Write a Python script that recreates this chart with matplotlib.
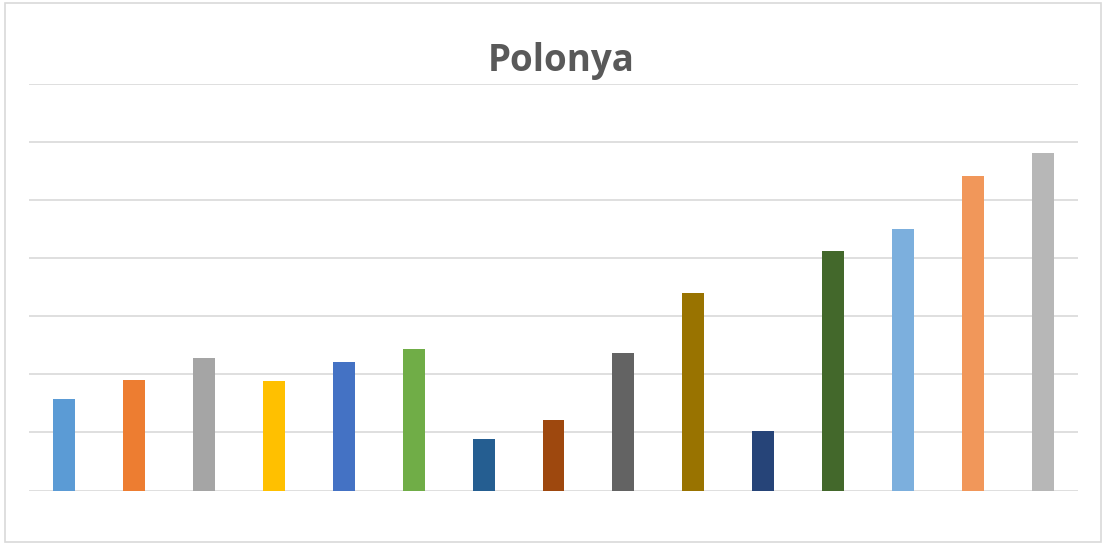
import matplotlib
matplotlib.use("Agg")
import matplotlib.pyplot as plt
from matplotlib.patches import Rectangle

categories = [f"C{i}" for i in range(1, 16)]
values = [1.57, 1.90, 2.29, 1.88, 2.21, 2.43, 0.88, 1.21, 2.36, 3.40, 1.02, 4.12, 4.50, 5.41, 5.81]
colors = ["#5B9BD5", "#ED7D31", "#A5A5A5", "#FFC000", "#4472C4", "#70AD47",
          "#255E91", "#9E480E", "#636363", "#997300", "#264478", "#43682B",
          "#7CAFDD", "#F1975A", "#B7B7B7"]
title = "Polonya"

W, H = 1104, 545
fig = plt.figure(figsize=(W / 100, H / 100), dpi=100)
fig.patches.append(Rectangle((5 / W, 3 / H), 1096 / W, 539 / H, transform=fig.transFigure,
                             fill=False, edgecolor="#D9D9D9", linewidth=1.2))

left, right = 29, 1078
bottom, top = 490.5, 84
ax = fig.add_axes([left / W, 1 - bottom / H, (right - left) / W, (bottom - top) / H])
x = list(range(len(categories)))
ax.bar(x, values, width=22 / 70, color=colors, zorder=3)
ax.set_xlim(-0.5, len(categories) - 0.5)
ax.set_ylim(0, 7)
ax.set_yticks(range(0, 8))
ax.grid(axis="y", color="#D9D9D9", linewidth=1.2, zorder=0)
ax.tick_params(left=False, bottom=False, labelleft=False, labelbottom=False)
for s in ax.spines.values():
    s.set_visible(False)

fig.text(561 / W, 1 - 61 / H, title, ha="center", va="center", fontsize=26.5,
         fontweight="bold", color="#595959", family="Open Sans")

fig.savefig("out.png", dpi=100)
